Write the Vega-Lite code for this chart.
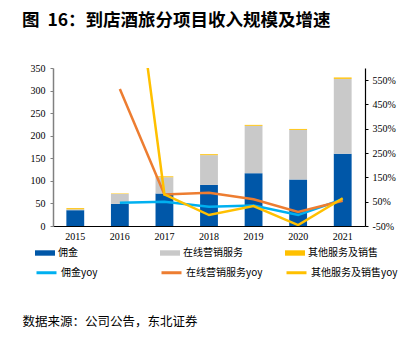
{
  "$schema": "https://vega.github.io/schema/vega-lite/v6.json",
  "width": 312,
  "height": 158,
  "autosize": {"type": "none"},
  "padding": {"left": 53, "top": 68, "right": 49, "bottom": 111},
  "background": "white",
  "title": {
    "text": "图\u00a0 16：到店酒旅分项目收入规模及增速",
    "anchor": "start",
    "frame": "group",
    "dx": -31,
    "offset": 34,
    "font": "Noto Sans CJK SC",
    "fontSize": 17.5,
    "fontWeight": "bold",
    "color": "#000000"
  },
  "config": {"view": {"stroke": null}},
  "datasets": {
    "bars": [
      {"year": "2015", "series": "佣金", "value": 35},
      {"year": "2015", "series": "在线营销服务", "value": 2},
      {"year": "2015", "series": "其他服务及销售", "value": 2.5},
      {"year": "2016", "series": "佣金", "value": 49},
      {"year": "2016", "series": "在线营销服务", "value": 22},
      {"year": "2016", "series": "其他服务及销售", "value": 1},
      {"year": "2017", "series": "佣金", "value": 72},
      {"year": "2017", "series": "在线营销服务", "value": 36},
      {"year": "2017", "series": "其他服务及销售", "value": 2},
      {"year": "2018", "series": "佣金", "value": 91},
      {"year": "2018", "series": "在线营销服务", "value": 66},
      {"year": "2018", "series": "其他服务及销售", "value": 2},
      {"year": "2019", "series": "佣金", "value": 117},
      {"year": "2019", "series": "在线营销服务", "value": 105},
      {"year": "2019", "series": "其他服务及销售", "value": 2},
      {"year": "2020", "series": "佣金", "value": 103},
      {"year": "2020", "series": "在线营销服务", "value": 110},
      {"year": "2020", "series": "其他服务及销售", "value": 2},
      {"year": "2021", "series": "佣金", "value": 160},
      {"year": "2021", "series": "在线营销服务", "value": 166},
      {"year": "2021", "series": "其他服务及销售", "value": 3}
    ],
    "yoy": [
      {"year": "2016", "series": "佣金yoy", "value": 46},
      {"year": "2017", "series": "佣金yoy", "value": 50},
      {"year": "2018", "series": "佣金yoy", "value": 29},
      {"year": "2019", "series": "佣金yoy", "value": 34},
      {"year": "2020", "series": "佣金yoy", "value": -5},
      {"year": "2021", "series": "佣金yoy", "value": 60},
      {"year": "2016", "series": "在线营销服务yoy", "value": 514},
      {"year": "2017", "series": "在线营销服务yoy", "value": 80},
      {"year": "2018", "series": "在线营销服务yoy", "value": 87},
      {"year": "2019", "series": "在线营销服务yoy", "value": 60},
      {"year": "2020", "series": "在线营销服务yoy", "value": 8},
      {"year": "2021", "series": "在线营销服务yoy", "value": 54},
      {"year": "2016", "series": "其他服务及销售yoy", "value": 1470},
      {"year": "2017", "series": "其他服务及销售yoy", "value": 80},
      {"year": "2018", "series": "其他服务及销售yoy", "value": -5},
      {"year": "2019", "series": "其他服务及销售yoy", "value": 32},
      {"year": "2020", "series": "其他服务及销售yoy", "value": -46},
      {"year": "2021", "series": "其他服务及销售yoy", "value": 64}
    ]
  },
  "layer": [
    {
      "data": {"name": "bars"},
      "transform": [
        {"calculate": "indexof(['佣金','在线营销服务','其他服务及销售'], datum.series)", "as": "k"}
      ],
      "mark": {"type": "bar", "width": {"band": 0.4}},
      "encoding": {
        "x": {
          "field": "year",
          "type": "ordinal",
          "scale": {"paddingInner": 0, "paddingOuter": 0},
          "axis": {
            "labelAngle": 0,
            "ticks": false,
            "domainColor": "#000000",
            "domainWidth": 1.2,
            "labelFont": "Liberation Serif",
            "labelFontSize": 10,
            "labelColor": "#000000",
            "labelPadding": 5,
            "title": "数据来源：公司公告，东北证券",
            "titleAnchor": "start",
            "titleAlign": "left",
            "titleX": -31,
            "titleY": 95,
            "titleBaseline": "middle",
            "titleFont": "Noto Sans CJK SC",
            "titleFontSize": 12.5,
            "titleFontWeight": "normal",
            "titleColor": "#000000"
          }
        },
        "y": {
          "field": "value",
          "type": "quantitative",
          "stack": "zero",
          "scale": {"domain": [0, 350], "nice": false},
          "axis": {
            "orient": "left",
            "values": [0, 50, 100, 150, 200, 250, 300, 350],
            "grid": false,
            "title": null,
            "tickSize": 3,
            "tickColor": "#808080",
            "domainColor": "#808080",
            "domainWidth": 1.5,
            "labelFont": "Liberation Serif",
            "labelFontSize": 10,
            "labelColor": "#000000",
            "labelPadding": 5
          }
        },
        "fill": {
          "field": "series",
          "type": "nominal",
          "scale": {
            "domain": ["佣金", "在线营销服务", "其他服务及销售"],
            "range": ["#0057A8", "#C9C9C9", "#FFC000"]
          },
          "legend": {
            "title": null,
            "orient": "none",
            "legendX": -18,
            "legendY": 175,
            "direction": "horizontal",
            "columns": 3,
            "gridAlign": "all",
            "columnPadding": 32,
            "symbolType": "M-1,-0.27H1V0.27H-1Z",
            "symbolSize": 400,
            "symbolStrokeWidth": 0,
            "labelFont": "Noto Sans CJK SC",
            "labelFontSize": 10,
            "labelColor": "#000000",
            "labelOffset": 3,
            "labelLimit": 200
          }
        },
        "order": {"field": "k", "type": "quantitative"}
      }
    },
    {
      "data": {"name": "yoy"},
      "mark": {"type": "line", "clip": true, "strokeWidth": 2.5},
      "encoding": {
        "x": {"field": "year", "type": "ordinal"},
        "y": {
          "field": "value",
          "type": "quantitative",
          "scale": {"domain": [-50, 600], "nice": false},
          "axis": {
            "orient": "right",
            "values": [-50, 50, 150, 250, 350, 450, 550],
            "labelExpr": "datum.value + '%'",
            "grid": false,
            "title": null,
            "tickSize": 3,
            "tickColor": "#000000",
            "domainColor": "#000000",
            "domainWidth": 1.2,
            "labelFont": "Liberation Serif",
            "labelFontSize": 10,
            "labelColor": "#000000",
            "labelPadding": 4
          }
        },
        "stroke": {
          "field": "series",
          "type": "nominal",
          "scale": {
            "domain": ["佣金yoy", "在线营销服务yoy", "其他服务及销售yoy"],
            "range": ["#00B0F0", "#ED7D31", "#FFC000"]
          },
          "legend": {
            "title": null,
            "orient": "none",
            "legendX": -18,
            "legendY": 193,
            "direction": "horizontal",
            "columns": 3,
            "gridAlign": "all",
            "columnPadding": 7,
            "symbolType": "stroke",
            "symbolSize": 400,
            "symbolStrokeWidth": 3,
            "labelFont": "Noto Sans CJK SC",
            "labelFontSize": 10,
            "labelColor": "#000000",
            "labelOffset": 3,
            "labelLimit": 200
          }
        }
      }
    }
  ],
  "resolve": {"scale": {"y": "independent"}}
}
